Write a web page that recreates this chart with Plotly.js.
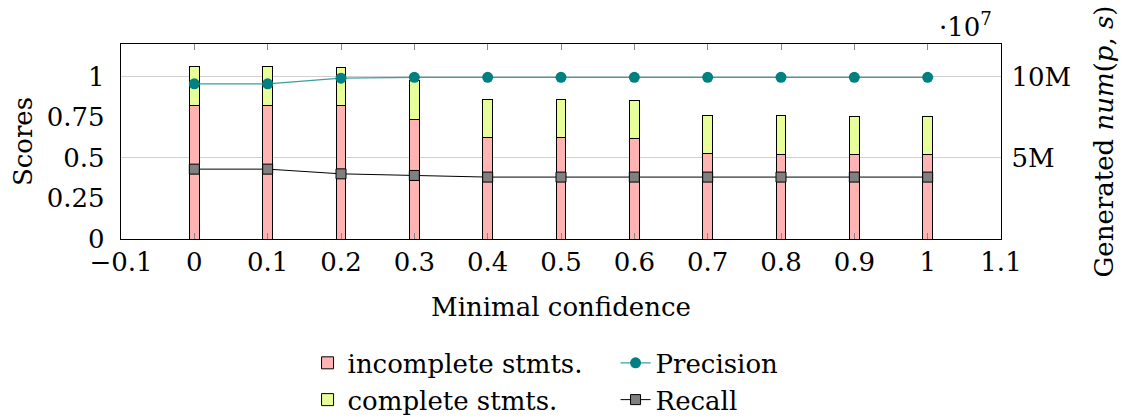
<!DOCTYPE html>
<html>
<head>
<meta charset="utf-8">
<script src="https://cdn.plot.ly/plotly-3.0.1.min.js"></script>
<style>html,body{margin:0;padding:0;background:#fff;}#chart{width:1135px;height:418px;}</style>
</head>
<body>
<div id="chart"></div>
<script>
const confidence = [0, 0.1, 0.2, 0.3, 0.4, 0.5, 0.6, 0.7, 0.8, 0.9, 1.0];
const incompleteStmts = [8.23e6, 8.23e6, 8.19e6, 7.35e6, 6.25e6, 6.22e6, 6.19e6, 5.25e6, 5.23e6, 5.17e6, 5.17e6];
const completeStmts = [2.37e6, 2.37e6, 2.36e6, 2.40e6, 2.35e6, 2.34e6, 2.33e6, 2.34e6, 2.34e6, 2.34e6, 2.34e6];
const precision = [0.955, 0.955, 0.99, 0.995, 0.995, 0.995, 0.995, 0.995, 0.995, 0.995, 0.995];
const recall = [0.43, 0.43, 0.401, 0.391, 0.381, 0.381, 0.381, 0.381, 0.381, 0.381, 0.381];
const xTicks = [-0.1, 0, 0.1, 0.2, 0.3, 0.4, 0.5, 0.6, 0.7, 0.8, 0.9, 1, 1.1];
const xTickText = ['\u22120.1', '0', '0.1', '0.2', '0.3', '0.4', '0.5', '0.6', '0.7', '0.8', '0.9', '1', '1.1'];
const scoreTicks = [0, 0.25, 0.5, 0.75, 1];
const scoreTickText = ['0', '0.25', '0.5', '0.75', '1'];
const countTicks = [5e6, 1e7];
const countTickText = ['5M', '10M'];

const FONT = '"DejaVu Serif", serif';
const FS = 26;

const traces = [
  {type: 'bar', x: confidence, y: incompleteStmts, name: 'incomplete stmts.', yaxis: 'y', legend: 'legend', legendgroup: 'a',
   width: 0.0135, marker: {color: '#ffb3b3', line: {color: '#000', width: 1}}},
  {type: 'bar', x: confidence, y: completeStmts, name: 'complete stmts.', yaxis: 'y', legend: 'legend', legendgroup: 'b',
   width: 0.0135, marker: {color: '#e8ff99', line: {color: '#000', width: 1}}},
  {type: 'scatter', mode: 'lines+markers', x: confidence, y: precision, name: 'Precision', yaxis: 'y2', legend: 'legend2', legendgroup: 'c',
   line: {color: '#3a9f9f', width: 1.3}, marker: {color: '#008080', size: 11, symbol: 'circle'}},
  {type: 'scatter', mode: 'lines+markers', x: confidence, y: recall, name: 'Recall', yaxis: 'y2', legend: 'legend2', legendgroup: 'd',
   line: {color: '#000', width: 1}, marker: {color: '#808080', size: 10, symbol: 'square', line: {color: '#000', width: 1}}}
];

const layout = {
  width: 1135, height: 418,
  margin: {l: 121, r: 134, t: 44, b: 179},
  paper_bgcolor: '#fff', plot_bgcolor: '#fff',
  font: {family: FONT, size: FS, color: '#000'},
  barmode: 'stack',
  showlegend: true,
  xaxis: {
    range: [-0.1, 1.1], tickvals: xTicks, ticktext: xTickText,
    ticks: 'inside', ticklen: 6, tickcolor: '#888', tickwidth: 1,
    showline: true, linecolor: '#000', linewidth: 1.2, mirror: 'ticks',
    showgrid: false, zeroline: false, ticklabelstandoff: 0,
    tickfont: {family: FONT, size: FS},
    title: {text: 'Minimal confidence', font: {family: FONT, size: FS}, standoff: 21}
  },
  yaxis: {
    side: 'right', range: [0, 1.2e7], tickvals: countTicks, ticktext: countTickText,
    ticks: '', showgrid: true, gridcolor: '#d0d0d0', gridwidth: 1,
    showline: true, linecolor: '#000', linewidth: 1.2, zeroline: false, ticklabelstandoff: 4,
    tickfont: {family: FONT, size: FS},
    title: {text: 'Generated <i>num</i>(<i>p</i>, <i>s</i>)', font: {family: FONT, size: FS}, standoff: 24}
  },
  yaxis2: {
    overlaying: 'y', side: 'left', range: [0, 1.2], tickvals: scoreTicks, ticktext: scoreTickText,
    ticks: '', showgrid: false, showline: true, linecolor: '#000', linewidth: 1.2, zeroline: false, ticklabelstandoff: 10,
    tickfont: {family: FONT, size: FS},
    title: {text: 'Scores', font: {family: FONT, size: FS}, standoff: 6}
  },
  legend: {
    x: 0.212, y: 0.188, xanchor: 'left', yanchor: 'top', yref: 'container', orientation: 'v', traceorder: 'normal',
    font: {family: FONT, size: FS}, bgcolor: 'rgba(0,0,0,0)', itemwidth: 30, tracegroupgap: 6
  },
  legend2: {
    x: 0.562, y: 0.188, xanchor: 'left', yanchor: 'top', yref: 'container', orientation: 'v', traceorder: 'normal',
    font: {family: FONT, size: FS}, bgcolor: 'rgba(0,0,0,0)', itemwidth: 30, tracegroupgap: 6
  },
  annotations: [
    {xref: 'paper', yref: 'paper', x: 0.96, y: 1.0, xanchor: 'center', yanchor: 'bottom',
     text: '\u00b710<sup>7</sup>', showarrow: false, font: {family: FONT, size: FS}}
  ]
};

Plotly.newPlot('chart', traces, layout, {displayModeBar: false, staticPlot: true});
</script>
</body>
</html>
